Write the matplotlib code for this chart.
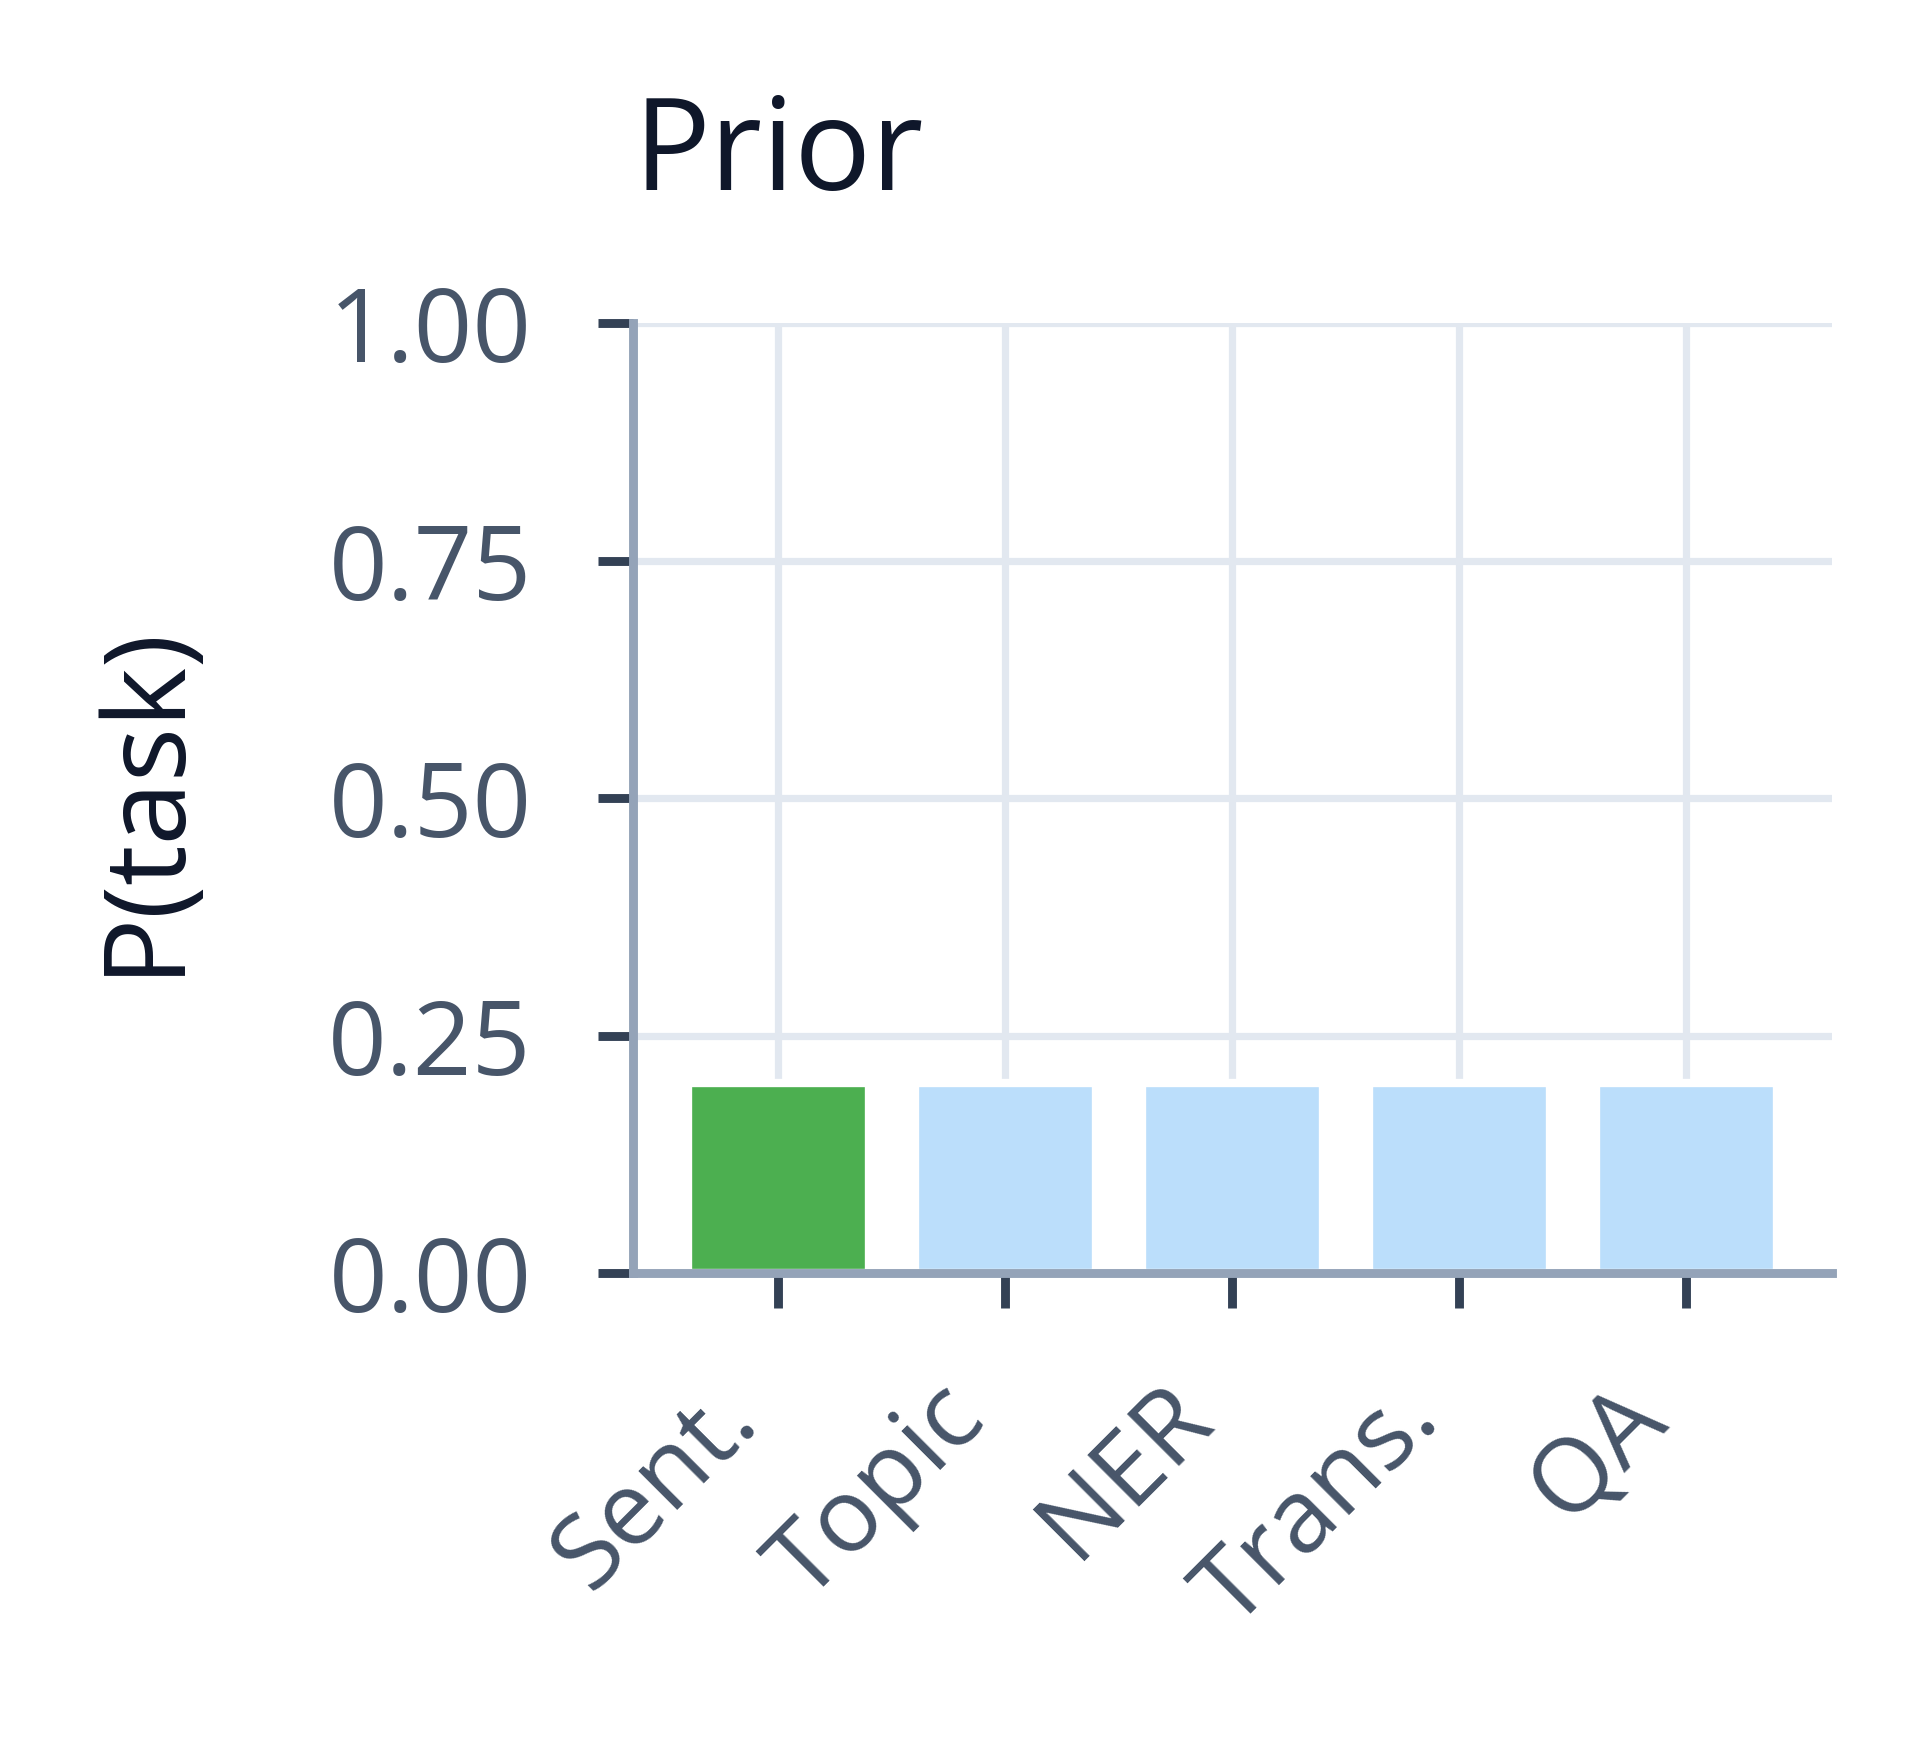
import matplotlib
matplotlib.use("Agg")
import matplotlib.pyplot as plt

categories = ["Sent.", "Topic", "NER", "Trans.", "QA"]
prior_values = [0.2, 0.2, 0.2, 0.2, 0.2]
highlight = "Sent."
y_ticks = [0.0, 0.25, 0.5, 0.75, 1.0]
y_tick_labels = ["0.00", "0.25", "0.50", "0.75", "1.00"]

plt.rcParams['font.family'] = ['Open Sans', 'DejaVu Sans']

fig = plt.figure(figsize=(9.6, 8.69), dpi=200)
ax = fig.add_axes([0.3297, 0.2673, 0.954 - 0.3297, 0.8142 - 0.2673])

colors = ['#4caf50' if c == highlight else '#bbdefb' for c in categories]
ax.bar(range(len(categories)), prior_values, width=0.8, color=colors,
       edgecolor='white', linewidth=3, zorder=2)

ax.set_ylim(0, 1)
ax.set_yticks(y_ticks)
ax.set_yticklabels(y_tick_labels)
ax.set_xticks(range(len(categories)))
ax.set_xticklabels(categories, rotation=45, ha='right')

ax.grid(True, color='#e2e8f0', linewidth=2.6, zorder=0)
ax.set_axisbelow(True)

for s in ['top', 'right']:
    ax.spines[s].set_visible(False)
for s in ['left', 'bottom']:
    ax.spines[s].set_color('#94a3b8')
    ax.spines[s].set_linewidth(3.2)

ax.tick_params(axis='both', length=12.5, width=3.2, color='#334155',
               labelcolor='#475569', labelsize=37)
ax.tick_params(axis='y', pad=24)
ax.tick_params(axis='x', pad=21)

ax.set_ylabel('P(task)', fontsize=41, color='#0f172a')
ax.yaxis.set_label_coords(-0.36, 0.5)

ax.set_title('Prior', loc='left', fontsize=46, color='#0f172a', pad=48)

fig.savefig('out.png', dpi=200, facecolor='white')
